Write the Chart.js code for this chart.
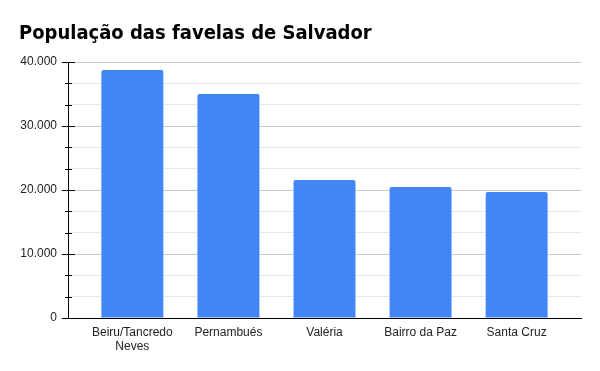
<!DOCTYPE html>
<html>
<head>
<meta charset="utf-8">
<script src="https://cdn.jsdelivr.net/npm/chart.js@4.4.1/dist/chart.umd.min.js"></script>
<style>
  html, body { margin: 0; padding: 0; background: #fff; }
  #wrap { width: 600px; height: 371px; }
</style>
</head>
<body>
<div id="wrap"><canvas id="grafico"></canvas></div>
<script>
// Dados do gráfico
const titulo = 'População das favelas de Salvador';
const bairros = [['Beiru/Tancredo', 'Neves'], 'Pernambués', 'Valéria', 'Bairro da Paz', 'Santa Cruz'];
const populacao = [38750, 35000, 21560, 20470, 19690];
const yMarcas = [0, 10000, 20000, 30000, 40000];

// formata 40000 -> 40.000
function formatar(v) {
    return String(Math.round(v)).replace(/\B(?=(\d{3})+(?!\d))/g, '.');
}

function ehPrincipal(v) {
    return yMarcas.some(m => Math.abs(m - v) < 1);
}

// Marcas pretas cruzando o eixo Y (principais e secundárias)
const marcasEixo = {
    id: 'marcasEixo',
    afterDraw(chart) {
        const y = chart.scales.y;
        const ctx = chart.ctx;
        const x0 = chart.chartArea.left;
        ctx.save();
        ctx.strokeStyle = '#000';
        ctx.lineWidth = 1;
        y.ticks.forEach(t => {
            const py = Math.round(y.getPixelForValue(t.value)) + 0.5;
            const len = ehPrincipal(t.value) ? 6 : 3;
            ctx.beginPath();
            ctx.moveTo(x0 - len, py);
            ctx.lineTo(x0 + len + 1, py);
            ctx.stroke();
        });
        ctx.restore();
    }
};

const ctx = document.getElementById('grafico').getContext('2d');
Chart.defaults.font.family = '"Liberation Sans", Arial, sans-serif';
Chart.defaults.font.size = 12;
Chart.defaults.color = '#222';

new Chart(ctx, {
    type: 'bar',
    data: {
        datasets: [{
            label: 'População',
            data: populacao.map((v, i) => ({ x: i, y: v })),
            backgroundColor: '#4285f4',
            borderRadius: 2,
            categoryPercentage: 1,
            barPercentage: 0.645
        }]
    },
    options: {
        responsive: true,
        maintainAspectRatio: false,
        animation: false,
        layout: { padding: { left: 19, right: 19, top: 0, bottom: 0 } },
        plugins: {
            legend: { display: false },
            tooltip: { enabled: false },
            title: {
                display: true,
                text: titulo,
                align: 'start',
                color: '#000',
                font: { family: '"DejaVu Sans Condensed", "DejaVu Sans", sans-serif', size: 20, weight: 'bold' },
                padding: { top: 22, bottom: 16 }
            }
        },
        scales: {
            x: {
                type: 'linear',
                min: -0.67,
                max: 4.67,
                offset: false,
                grid: { display: false },
                border: { display: true, color: '#000', width: 1 },
                afterBuildTicks: s => { s.ticks = bairros.map((b, i) => ({ value: i })); },
                afterFit: s => { s.height = 53; },
                ticks: {
                    autoSkip: false,
                    maxRotation: 0,
                    padding: -1,
                    callback: v => bairros[v]
                }
            },
            y: {
                min: 0,
                max: 40000,
                grid: {
                    drawTicks: false,
                    color: c => ehPrincipal(c.tick.value) ? '#cccccc' : '#e6e6e6'
                },
                border: { display: true, color: '#000', width: 1 },
                afterBuildTicks: s => {
                    const t = [];
                    for (let i = 0; i <= 12; i++) t.push({ value: i * 40000 / 12 });
                    s.ticks = t;
                },
                afterFit: s => { s.width = 49; },
                ticks: {
                    autoSkip: false,
                    padding: 11,
                    callback: v => ehPrincipal(v) ? formatar(v) : ''
                }
            }
        }
    },
    plugins: [marcasEixo]
});
</script>
</body>
</html>
